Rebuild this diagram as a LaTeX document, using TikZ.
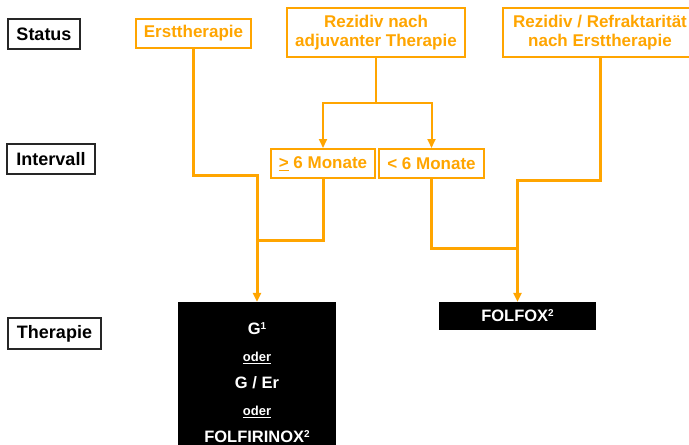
\documentclass[tikz,border=0pt]{standalone}
\usepackage{fontspec}
\setmainfont{Liberation Sans}
\usetikzlibrary{arrows.meta}
\definecolor{rzorange}{HTML}{FFA500}
\tikzset{
  lbl/.style={draw=black!85, line width=1.5pt, fill=white, inner sep=0pt,
    font=\bfseries\fontsize{18}{20}\selectfont},
  obox/.style={draw=rzorange, line width=2pt, text=rzorange, inner sep=0pt,
    align=center, font=\bfseries\fontsize{17}{19}\selectfont},
  tbox/.style={fill=black, text=white, inner sep=0pt, align=center,
    font=\bfseries\fontsize{16.5}{27}\selectfont},
  oline/.style={draw=rzorange, line width=3pt},
  othin/.style={draw=rzorange, line width=2pt},
  otip/.style={-{Triangle[length=9pt,width=8pt]}},
}
\newcommand{\oder}{{\fontsize{13}{27}\selectfont\underline{oder}}}
\newcommand{\fn}[1]{\raisebox{5pt}{\fontsize{10}{10}\selectfont#1}}
\begin{document}
\begin{tikzpicture}[x=1pt,y=-1pt]
\useasboundingbox (0,0) rectangle (689,445);
% left labels
\node[lbl, minimum width=72, minimum height=30] (status) at (44,34) {Status};
\node[lbl, minimum width=88, minimum height=30] (intervall) at (51,159) {Intervall};
\node[lbl, minimum width=93, minimum height=31] (therapie) at (54.5,333.5) {Therapie};
% status boxes
\node[obox, minimum width=115, minimum height=29] (erst) at (193.5,33.5) {Ersttherapie};
\node[obox, minimum width=178, minimum height=49] (rez) at (376,32.5) {Rezidiv nach\\adjuvanter Therapie};
\node[obox, minimum width=194, minimum height=49] (refr) at (600,32.5) {Rezidiv / Refraktarität\\nach Ersttherapie};
% interval boxes
\node[obox, minimum width=104, minimum height=29] (ge) at (323,163.5) {\underline{>} 6 Monate};
\node[obox, minimum width=105, minimum height=29] (lt) at (431.5,163.5) {< 6 Monate};
% therapy boxes
\node[tbox, minimum width=158, minimum height=162] (gem) at (257,383)
  {G\fn{1}\\\oder\\G / Er\\\oder\\FOLFIRINOX\fn{2}};
\node[tbox, minimum width=157, minimum height=28] (folfox) at (517.5,316) {FOLFOX\fn{2}};
% connectors
\coordinate (split) at (376,103);
\coordinate (k1) at (193.5,175);
\coordinate (j1) at (257,240);
\coordinate (k2) at (600,180);
\coordinate (j2) at (517.5,248);
\draw[othin] (rez.south) -- (split);
\draw[othin, otip] (split) -| (ge.north);
\draw[othin, otip] (split) -| (lt.north);
\draw[oline, otip] (erst.south) -- (k1) -| (gem.north);
\draw[oline] (ge.south) |- (j1);
\draw[oline, otip] (refr.south) -- (k2) -| (folfox.north);
\draw[oline] (lt.south) |- (j2);
\end{tikzpicture}
\end{document}
